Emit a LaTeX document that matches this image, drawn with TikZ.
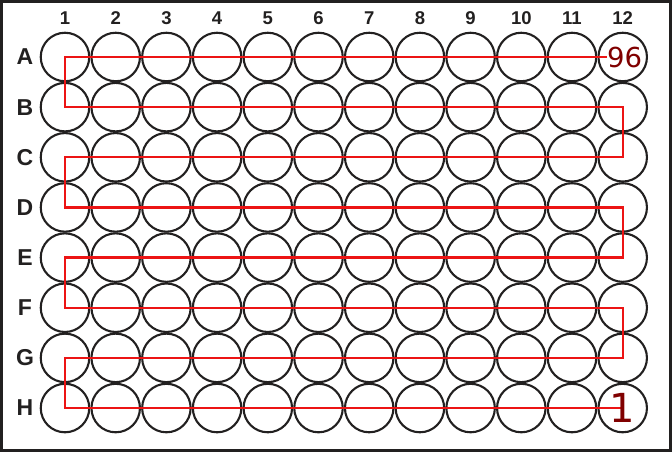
\documentclass[tikz,border=0pt]{standalone}
\usepackage{fontspec}
\setmainfont{Liberation Sans}
\newfontfamily\dejavu{DejaVu Sans}
\definecolor{framegray}{RGB}{34,32,32}
\definecolor{pathred}{RGB}{236,20,20}
\definecolor{numred}{RGB}{128,0,0}
\begin{document}
\begin{tikzpicture}[x=1pt,y=1pt,
  well/.style={circle,draw=framegray,line width=2.1pt,minimum size=48.5pt,inner sep=0pt},
  collab/.style={font=\fontsize{18.5}{18.5}\selectfont\bfseries,text=framegray,inner sep=0pt},
  rowlab/.style={font=\fontsize{23}{23}\selectfont\bfseries,text=framegray,inner sep=0pt},
  route/.style={draw=pathred,line width=2.4pt},
  numlab/.style={font=\dejavu,text=numred,inner sep=0pt}]
\useasboundingbox (0,0) rectangle (672,452);
\draw[framegray,line width=3.2pt] (1.6,1.6) rectangle (670.4,450.4);
\foreach \r [count=\i] in {A,B,C,D,E,F,G,H}{
  \node[rowlab] (row-\i) at (25,{452-57-(\i-1)*50.15}) {\r};
  \foreach \j in {1,...,12}{
    \node[well] (w-\i-\j) at ({65+(\j-1)*50.7},{452-57-(\i-1)*50.15}) {};
  }
}
\foreach \j in {1,...,12}{
  \node[collab] (col-\j) at ({65+(\j-1)*50.7},433.5) {\j};
}
\node[numlab,font=\dejavu\fontsize{27.5}{27.5}\selectfont] (n96) at ([xshift=2pt]w-1-12.center) {96};
\draw[route] (n96.west) -- (w-1-1.center) -- (w-2-1.center) -- (w-2-12.center)
  -- (w-3-12.center) -- (w-3-1.center) -- (w-4-1.center) -- (w-4-12.center)
  -- (w-5-12.center) -- (w-5-1.center) -- (w-6-1.center) -- (w-6-12.center)
  -- (w-7-12.center) -- (w-7-1.center) -- (w-8-1.center) -- (w-8-12.center);
\node[numlab,font=\dejavu\fontsize{40}{40}\selectfont] (n1) at (w-8-12.center) {1};
\end{tikzpicture}
\end{document}
